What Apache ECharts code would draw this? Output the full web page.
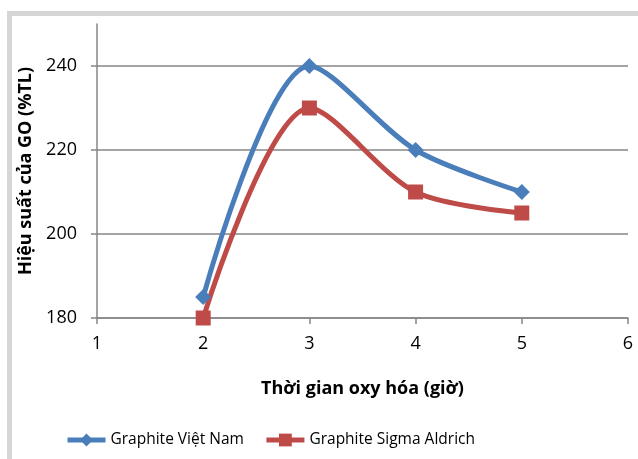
<!DOCTYPE html>
<html><head><meta charset="utf-8">
<script src="https://cdn.jsdelivr.net/npm/echarts@6/dist/echarts.min.js"></script>
<style>html,body{margin:0;padding:0;background:#fff}#c{width:638px;height:459px}</style>
</head><body><div id="c"></div>
<script>
const xValues = [2, 3, 4, 5];
const vietNam = [185, 240, 220, 210];
const sigma = [180, 230, 210, 205];
const yTicks = [180, 200, 220, 240];
const seriesNames = ['Graphite Việt Nam', 'Graphite Sigma Aldrich'];
const xTitle = 'Thời gian oxy hóa (giờ)';
const yTitle = 'Hiệu suất của GO (%TL)';

const font = 'Open Sans';
const chart = echarts.init(document.getElementById('c'), null, {renderer: 'canvas'});
chart.setOption({
  animation: false,
  backgroundColor: '#fff',
  graphic: [
    {type: 'rect', shape: {x: 7, y: 11, width: 631, height: 5}, style: {fill: '#d6d6d6'}, silent: true},
    {type: 'rect', shape: {x: 7, y: 11, width: 5, height: 448}, style: {fill: '#d6d6d6'}, silent: true}
  ],
  grid: {left: 97, right: 10, top: 24, bottom: 141},
  legend: {
    left: 60, top: 427,
    itemWidth: 38, itemHeight: 16, itemGap: 20,
    lineStyle: {width: 5},
    textStyle: {fontFamily: font, fontSize: 15.5, color: '#000'},
    data: seriesNames
  },
  xAxis: {
    type: 'value', min: 1, max: 6, interval: 1,
    name: xTitle, nameLocation: 'middle', nameGap: 71,
    nameTextStyle: {fontFamily: font, fontSize: 18, fontWeight: 'bold', color: '#000', verticalAlign: 'middle'},
    axisLine: {lineStyle: {color: '#868686', width: 1.5}},
    axisTick: {show: true, length: 6, lineStyle: {color: '#868686', width: 1.5}},
    axisLabel: {fontFamily: font, fontSize: 18, color: '#000', margin: 17},
    splitLine: {show: false}
  },
  yAxis: {
    type: 'value', min: 180, max: 250, interval: 20,
    name: yTitle, nameLocation: 'middle', nameGap: 69,
    nameTextStyle: {fontFamily: font, fontSize: 18, fontWeight: 'bold', color: '#000', verticalAlign: 'middle'},
    axisLine: {show: true, lineStyle: {color: '#868686', width: 1.5}},
    axisTick: {show: true, length: 6, customValues: yTicks, lineStyle: {color: '#868686', width: 1.5}},
    axisLabel: {fontFamily: font, fontSize: 18, color: '#000', margin: 20, customValues: yTicks},
    splitLine: {show: true, lineStyle: {color: ['#868686', '#868686', '#868686', '#868686', 'rgba(0,0,0,0)'], width: 1.5}}
  },
  series: [
    {
      name: seriesNames[0], type: 'line', smooth: 0.3,
      data: xValues.map((x, i) => [x, vietNam[i]]),
      symbol: 'diamond', symbolSize: 16,
      lineStyle: {color: '#4a7ebb', width: 5},
      itemStyle: {color: '#4a7ebb'}
    },
    {
      name: seriesNames[1], type: 'line', smooth: 0.3,
      data: xValues.map((x, i) => [x, sigma[i]]),
      symbol: 'rect', symbolSize: 15,
      lineStyle: {color: '#be4b48', width: 5},
      itemStyle: {color: '#be4b48'}
    }
  ]
});
</script></body></html>
